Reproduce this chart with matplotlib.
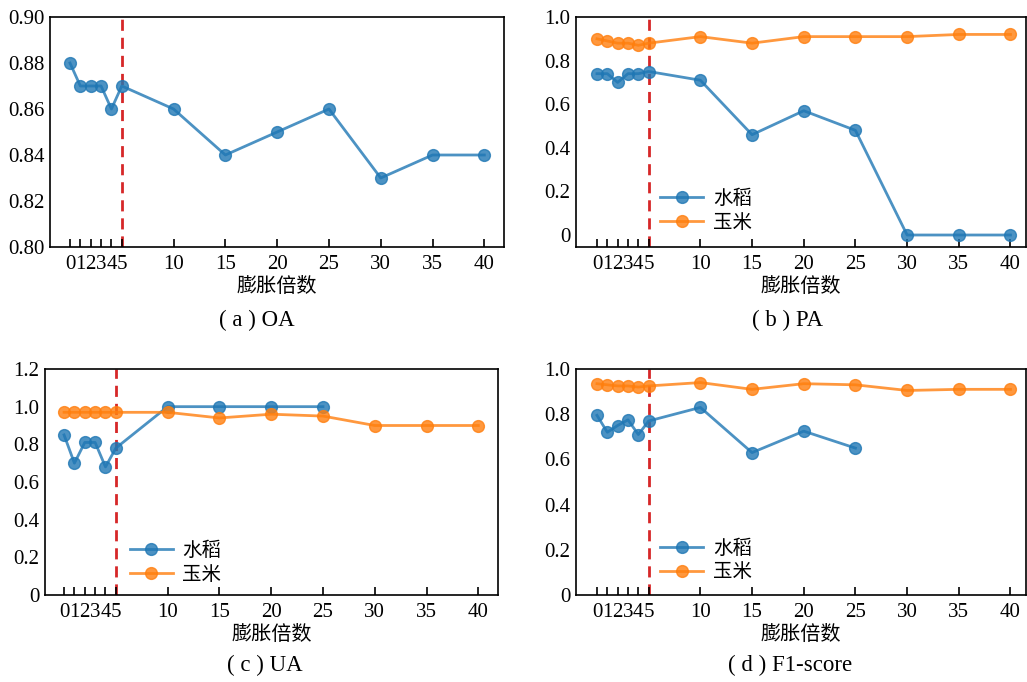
"""plot.py — four panels: OA / PA / UA / F1-score vs dilation factor (膨胀倍数)."""
import matplotlib as mpl
import matplotlib.pyplot as plt
from matplotlib.ticker import FuncFormatter

# ---- data ----
X_ALL = [0, 1, 2, 3, 4, 5, 10, 15, 20, 25, 30, 35, 40]
X_PART = [0, 1, 2, 3, 4, 5, 10, 15, 20, 25]
X_TICKS = [0, 1, 2, 3, 4, 5, 10, 15, 20, 25, 30, 35, 40]

OA = [0.88, 0.87, 0.87, 0.87, 0.86, 0.87, 0.86, 0.84, 0.85, 0.86, 0.83, 0.84, 0.84]

PA_RICE = [0.74, 0.74, 0.70, 0.74, 0.74, 0.75, 0.71, 0.46, 0.57, 0.48, 0.0, 0.0, 0.0]
PA_CORN = [0.90, 0.89, 0.88, 0.88, 0.87, 0.88, 0.91, 0.88, 0.91, 0.91, 0.91, 0.92, 0.92]

UA_RICE = [0.85, 0.70, 0.81, 0.81, 0.68, 0.78, 1.0, 1.0, 1.0, 1.0]
UA_CORN = [0.97, 0.97, 0.97, 0.97, 0.97, 0.97, 0.97, 0.94, 0.96, 0.95, 0.90, 0.90, 0.90]

F1_RICE = [0.795, 0.72, 0.75, 0.775, 0.71, 0.77, 0.83, 0.63, 0.725, 0.65]
F1_CORN = [0.935, 0.93, 0.925, 0.925, 0.92, 0.925, 0.94, 0.91, 0.935, 0.93, 0.905, 0.91, 0.91]

SUBTITLES = ["( a ) OA", "( b ) PA", "( c ) UA", "( d ) F1-score"]
XLABEL = "膨胀倍数"
LABEL_RICE = "水稻"
LABEL_CORN = "玉米"

mpl.rcParams.update({
    "font.family": ["Liberation Serif", "Noto Sans CJK SC"],
    "font.size": 13,
    "axes.linewidth": 1.2,
})

BLUE = "#1f77b4"
ORANGE = "#ff7f0e"
RED = "#d62728"
CJK = ["Noto Sans CJK SC", "DejaVu Sans"]

W, H = 1027, 682


def px_axes(fig, left, right, top, bottom):
    return fig.add_axes([left / W, 1 - bottom / H, (right - left) / W, (bottom - top) / H])


def zero_fmt(dec):
    def f(v, _):
        if abs(v) < 1e-9:
            return "0"
        return f"{v:.{dec}f}"
    return FuncFormatter(f)


def series(ax, x, y, color, label=None):
    ax.plot(x, y, color=color, lw=2.0, marker="o", markersize=8.5,
            markerfacecolor=color, markeredgecolor=color, alpha=0.8, label=label)


def style(ax, xlim, ylim, yticks, dec):
    ax.set_xlim(*xlim)
    ax.set_ylim(*ylim)
    ax.set_xticks(X_TICKS)
    ax.set_xticklabels([str(t) for t in X_TICKS])
    ax.set_yticks(yticks)
    ax.yaxis.set_major_formatter(zero_fmt(dec))
    ax.tick_params(axis="x", direction="in", length=6, width=1.2, pad=6, labelsize=15)
    ax.tick_params(axis="y", length=0, pad=4, labelsize=15)
    ax.axvline(5, color=RED, lw=2.0, ls=(0, (4, 2.5)), zorder=1)
    ax.set_xlabel(XLABEL, family=CJK, fontsize=14.5, labelpad=1)


def legend(ax, x0, yc):
    ax.legend(loc="center left", bbox_to_anchor=(x0, yc), frameon=False,
              prop={"family": CJK, "size": 14}, handlelength=2.2,
              handletextpad=0.5, labelspacing=0.15, borderaxespad=0)


def main():
    fig = plt.figure(figsize=(W / 100, H / 100), dpi=100)

    # (a) OA
    ax = px_axes(fig, 50, 504, 17, 247)
    series(ax, X_ALL, OA, BLUE)
    style(ax, (-1.93, 41.9), (0.80, 0.90), [0.80, 0.82, 0.84, 0.86, 0.88, 0.90], 2)

    # (b) PA
    ax = px_axes(fig, 576, 1026, 17, 247)
    series(ax, X_ALL, PA_RICE, BLUE, LABEL_RICE)
    series(ax, X_ALL, PA_CORN, ORANGE, LABEL_CORN)
    style(ax, (-2.03, 41.5), (-0.055, 1.0), [0, 0.2, 0.4, 0.6, 0.8, 1.0], 1)
    legend(ax, 0.17, 0.16)

    # (c) UA
    ax = px_axes(fig, 45, 498, 369, 595)
    series(ax, X_PART, UA_RICE, BLUE, LABEL_RICE)
    series(ax, X_ALL, UA_CORN, ORANGE, LABEL_CORN)
    style(ax, (-1.84, 41.9), (0, 1.2), [0, 0.2, 0.4, 0.6, 0.8, 1.0, 1.2], 1)
    legend(ax, 0.17, 0.145)

    # (d) F1-score
    ax = px_axes(fig, 576, 1026, 369, 595)
    series(ax, X_PART, F1_RICE, BLUE, LABEL_RICE)
    series(ax, X_ALL, F1_CORN, ORANGE, LABEL_CORN)
    style(ax, (-2.03, 41.5), (0, 1.0), [0, 0.2, 0.4, 0.6, 0.8, 1.0], 1)
    legend(ax, 0.17, 0.155)

    # subtitles under each panel
    for (cx, cy), txt in zip([(257, 320), (788, 320), (265, 665), (790, 665)], SUBTITLES):
        fig.text(cx / W, 1 - cy / H, txt, ha="center", va="center", fontsize=16.5)

    fig.savefig("out.png", dpi=100)


if __name__ == "__main__":
    main()
